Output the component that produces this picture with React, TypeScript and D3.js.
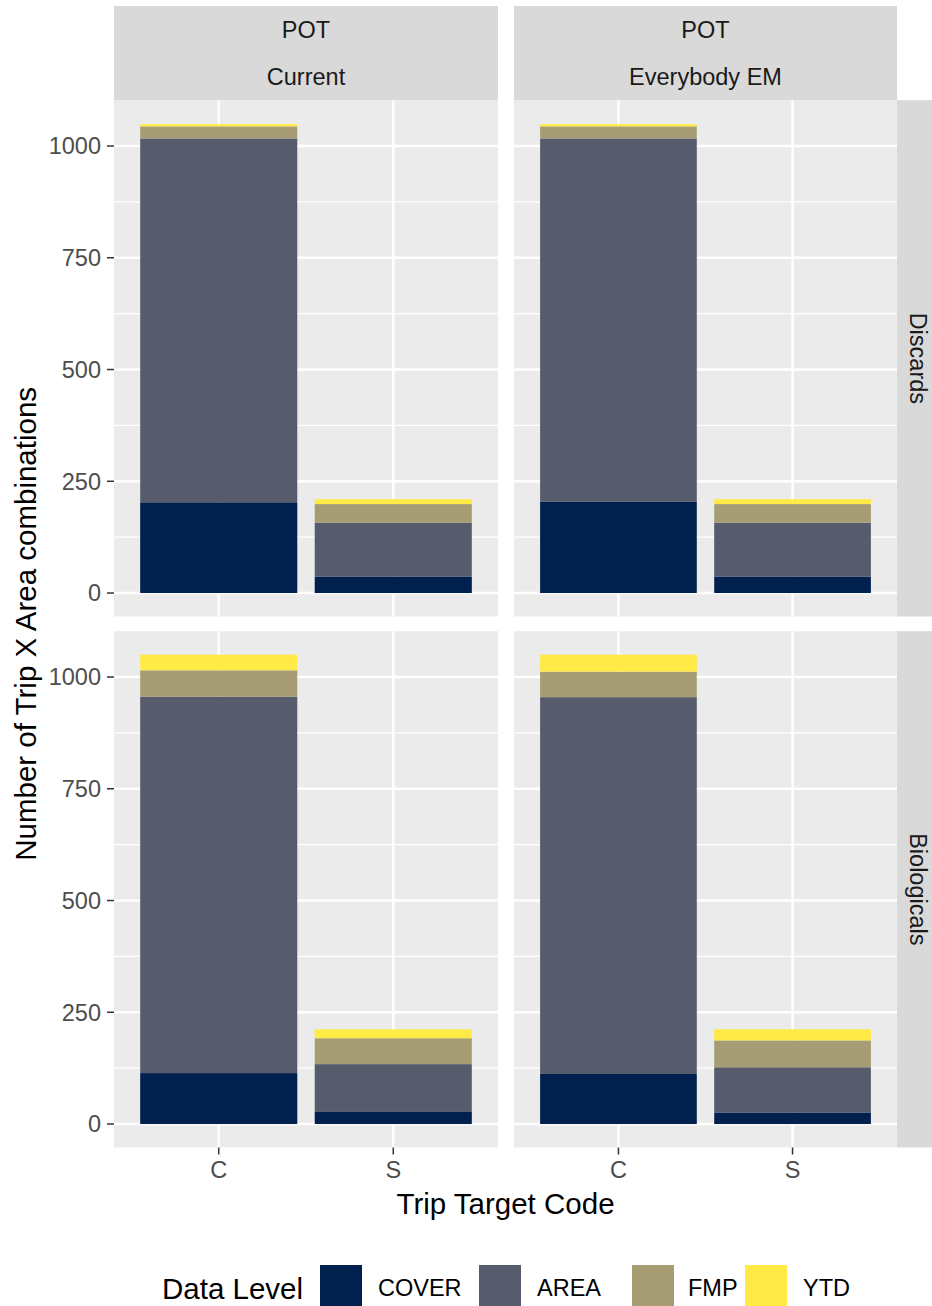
import React from "react";
import * as d3 from "d3";

// ---- data ----
const rowFacets = ["Discards", "Biologicals"];
const colFacets = ["Current", "Everybody EM"];
const colFacetTop = ["POT", "POT"];
const categories = ["C", "S"];
const levels = ["COVER", "AREA", "FMP", "YTD"];
const levelColors = ["#00204D", "#575C6D", "#A69D75", "#FFEA46"];
const yTicks = [0, 250, 500, 750, 1000];
const yMinor = [125, 375, 625, 875];

// order: Discards/Current/C, Discards/Current/S, Discards/EM/C, Discards/EM/S,
//        Biologicals/Current/C, Biologicals/Current/S, Biologicals/EM/C, Biologicals/EM/S
const coverValues = [203, 37, 204, 37, 114, 27, 112, 26];
const areaValues = [814, 120, 813, 120, 842, 107, 843, 101];
const fmpValues = [27, 42, 27, 42, 59, 58, 57, 60];
const ytdValues = [5, 11, 5, 11, 35, 20, 38, 25];

const W = 932;
const H = 1306;
const FONT = "'Liberation Sans', Arial, Helvetica, sans-serif";
const TICK_FS = 23.5;
const TITLE_FS = 29.5;

const colX = [
  [114, 498],
  [514, 897],
];
const rowY = [
  [100.2, 616.5],
  [631.2, 1147.5],
];
const stripTop = 6;
const stripRightX = 897;
const stripRightW = 42;

export default function App() {
  const rows: any[] = [];
  colFacets.forEach((cf, ci) => {
    rowFacets.forEach((rf, ri) => {
      categories.forEach((cat, ki) => {
        const idx = ri * 4 + ci * 2 + ki;
        rows.push({
          ri,
          ci,
          cat,
          ki,
          COVER: coverValues[idx],
          AREA: areaValues[idx],
          FMP: fmpValues[idx],
          YTD: ytdValues[idx],
        });
      });
    });
  });
  const stacked = d3.stack<any>().keys(levels)(rows);

  const panels: JSX.Element[] = [];
  rowFacets.forEach((rf, ri) => {
    colFacets.forEach((cf, ci) => {
      const [x0, x1] = colX[ci];
      const [y0, y1] = rowY[ri];
      const y = d3.scaleLinear().domain([-52.5, 1102.5]).range([y1, y0]);
      const x = d3.scaleLinear().domain([0.4, 2.6]).range([x0, x1]);
      const bw = x(0.9) - x(0);
      panels.push(
        <g key={`p-${ri}-${ci}`}>
          <rect x={x0} y={y0} width={x1 - x0} height={y1 - y0} fill="#EBEBEB" />
          {yMinor.map((t) => (
            <line key={`mn${t}`} x1={x0} x2={x1} y1={y(t)} y2={y(t)} stroke="#FFFFFF" strokeWidth={1.2} />
          ))}
          {yTicks.map((t) => (
            <line key={`mj${t}`} x1={x0} x2={x1} y1={y(t)} y2={y(t)} stroke="#FFFFFF" strokeWidth={2.4} />
          ))}
          {categories.map((c, k) => (
            <line key={`v${c}`} x1={x(k + 1)} x2={x(k + 1)} y1={y0} y2={y1} stroke="#FFFFFF" strokeWidth={2.4} />
          ))}
          {stacked.map((layer, li) =>
            layer
              .filter((d) => d.data.ri === ri && d.data.ci === ci)
              .map((d) => (
                <rect
                  key={`b${li}-${d.data.cat}`}
                  x={x(d.data.ki + 1) - bw / 2}
                  width={bw}
                  y={y(d[1])}
                  height={y(d[0]) - y(d[1])}
                  fill={levelColors[li]}
                />
              ))
          )}
        </g>
      );
    });
  });

  // y axes
  const yAxes = rowFacets.map((rf, ri) => {
    const [y0, y1] = rowY[ri];
    const y = d3.scaleLinear().domain([-52.5, 1102.5]).range([y1, y0]);
    return (
      <g key={`ya${ri}`}>
        {yTicks.map((t) => (
          <g key={t}>
            <line x1={107} x2={114} y1={y(t)} y2={y(t)} stroke="#333333" strokeWidth={1.5} />
            <text x={101} y={y(t)} dy="0.36em" textAnchor="end" fontSize={TICK_FS} fill="#4D4D4D" fontFamily={FONT}>
              {t}
            </text>
          </g>
        ))}
      </g>
    );
  });

  // x axes
  const xAxes = colFacets.map((cf, ci) => {
    const [x0, x1] = colX[ci];
    const x = d3.scaleLinear().domain([0.4, 2.6]).range([x0, x1]);
    const yb = rowY[1][1];
    return (
      <g key={`xa${ci}`}>
        {categories.map((c, k) => (
          <g key={c}>
            <line x1={x(k + 1)} x2={x(k + 1)} y1={yb} y2={yb + 7} stroke="#333333" strokeWidth={1.5} />
            <text x={x(k + 1)} y={yb + 22} dy="0.36em" textAnchor="middle" fontSize={TICK_FS} fill="#4D4D4D" fontFamily={FONT}>
              {c}
            </text>
          </g>
        ))}
      </g>
    );
  });

  // top strips
  const topStrips = colFacets.map((cf, ci) => {
    const [x0, x1] = colX[ci];
    const cx = (x0 + x1) / 2;
    const y1 = rowY[0][0];
    return (
      <g key={`ts${ci}`}>
        <rect x={x0} y={stripTop} width={x1 - x0} height={y1 - stripTop} fill="#D9D9D9" />
        <text x={cx} y={30} dy="0.36em" textAnchor="middle" fontSize={TICK_FS} fill="#1A1A1A" fontFamily={FONT}>
          {colFacetTop[ci]}
        </text>
        <text x={cx} y={77} dy="0.36em" textAnchor="middle" fontSize={TICK_FS} fill="#1A1A1A" fontFamily={FONT}>
          {cf}
        </text>
      </g>
    );
  });

  const rightStrips = rowFacets.map((rf, ri) => {
    const [y0, y1] = rowY[ri];
    const cy = (y0 + y1) / 2;
    const cx = stripRightX + stripRightW / 2;
    return (
      <g key={`rs${ri}`}>
        <rect x={stripRightX} y={y0} width={stripRightW} height={y1 - y0} fill="#D9D9D9" />
        <text
          transform={`translate(${cx},${cy}) rotate(90)`}
          dy="0.36em"
          textAnchor="middle"
          fontSize={TICK_FS}
          fill="#1A1A1A"
          fontFamily={FONT}
        >
          {rf}
        </text>
      </g>
    );
  });

  const legendKeyX = [320, 479, 632, 745];
  const legendTextX = [378, 537, 688, 803];

  return (
    <svg
      width={W}
      height={H}
      style={{ position: "absolute", left: 0, top: 0, background: "#FFFFFF" }}
      xmlns="http://www.w3.org/2000/svg"
    >
      <rect x={0} y={0} width={W} height={H} fill="#FFFFFF" />
      {panels}
      {topStrips}
      {rightStrips}
      {yAxes}
      {xAxes}
      <text
        transform={`translate(${25},${(rowY[0][0] + rowY[1][1]) / 2}) rotate(-90)`}
        dy="0.36em"
        textAnchor="middle"
        fontSize={TITLE_FS}
        fill="#000000"
        fontFamily={FONT}
      >
        Number of Trip X Area combinations
      </text>
      <text x={(colX[0][0] + colX[1][1]) / 2} y={1203} dy="0.36em" textAnchor="middle" fontSize={TITLE_FS} fill="#000000" fontFamily={FONT}>
        Trip Target Code
      </text>
      <text x={162} y={1288} dy="0.36em" fontSize={TITLE_FS} fill="#000000" fontFamily={FONT}>
        Data Level
      </text>
      {levels.map((lv, i) => (
        <g key={lv}>
          <rect x={legendKeyX[i]} y={1265} width={42} height={42} fill={levelColors[i]} />
          <text x={legendTextX[i]} y={1288} dy="0.36em" fontSize={TICK_FS} fill="#000000" fontFamily={FONT}>
            {lv}
          </text>
        </g>
      ))}
    </svg>
  );
}
